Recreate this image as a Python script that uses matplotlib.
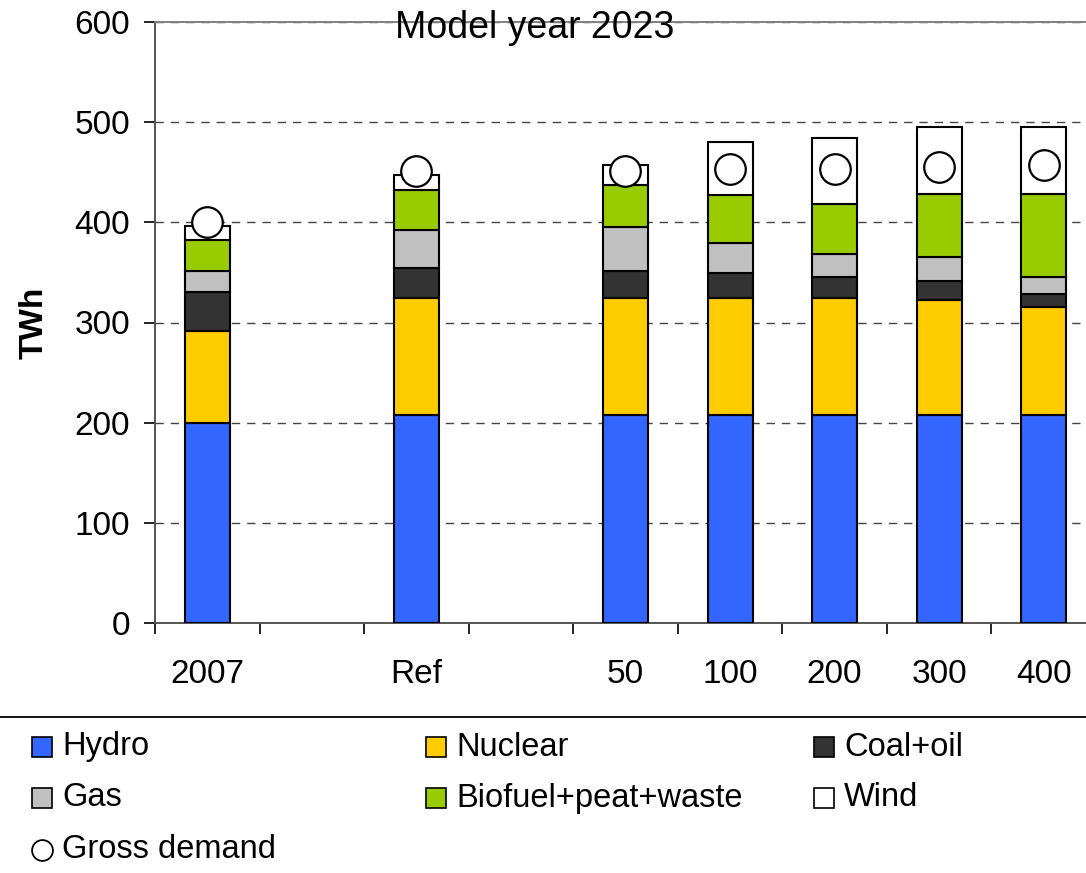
import matplotlib
matplotlib.use("Agg")
import matplotlib.pyplot as plt
import numpy as np
from matplotlib.patches import Rectangle
from matplotlib.lines import Line2D

plt.rcParams["font.family"] = ["Liberation Sans", "DejaVu Sans"]

# Scenario columns (blank slots keep the gaps between groups)
categories = ["2007", "", "Ref", "", "50", "100", "200", "300", "400"]
bar_slots = [0, 2, 4, 5, 6, 7, 8]

# Production by source, TWh (bottom to top of each stack)
hydro = [200, 208, 208, 208, 208, 208, 208]
nuclear = [92, 116, 116, 116, 116, 114, 107]
coal_oil = [38, 30, 27, 25, 21, 19, 13]
gas = [21, 38, 44, 30, 23, 24, 17]
biofuel = [31.5, 40, 42, 48, 50, 63, 83]
wind = [13.5, 15, 20, 53, 66, 67, 67]
gross_demand = [400, 451, 451, 453, 453, 455, 457]

series = [
    ("Hydro", hydro, "#3366FF"),
    ("Nuclear", nuclear, "#FFCC00"),
    ("Coal+oil", coal_oil, "#333333"),
    ("Gas", gas, "#C0C0C0"),
    ("Biofuel+peat+waste", biofuel, "#99CC00"),
    ("Wind", wind, "#FFFFFF"),
]

W, H = 1086, 873
fig = plt.figure(figsize=(W / 100, H / 100), dpi=100)
ax = fig.add_axes([155 / W, (H - 623) / H, 941 / W, 601 / H])

x = np.array(bar_slots) + 0.5
bottom = np.zeros(len(x))
for name, vals, color in series:
    ax.bar(x, vals, width=0.43, bottom=bottom, color=color,
           edgecolor="black", linewidth=1.5, zorder=3)
    bottom += np.array(vals)

ax.plot(x, gross_demand, linestyle="none", marker="o", markersize=22,
        markerfacecolor="white", markeredgecolor="black",
        markeredgewidth=1.6, zorder=4)

ax.set_xlim(0, len(categories))
ax.set_ylim(0, 600)
ax.set_yticks(np.arange(0, 601, 100))
ax.set_xticks(np.arange(len(categories)) + 0.5)
ax.set_xticklabels(categories)
ax.set_xticks(np.arange(len(categories) + 1), minor=True)

ax.tick_params(axis="y", labelsize=24, length=8, width=1.2, pad=10,
               direction="out", color="black")
ax.tick_params(axis="x", which="major", labelsize=24, length=0, pad=26)
ax.tick_params(axis="x", which="minor", length=8, width=1.2,
               direction="out", color="black")

ax.yaxis.grid(True, linestyle=(0, (6, 5)), color="#444444", linewidth=1.0,
              zorder=0)
ax.set_axisbelow(True)

for side in ["left", "bottom"]:
    ax.spines[side].set_color("#555555")
    ax.spines[side].set_linewidth(1.4)
ax.spines["top"].set_color("#808080")
ax.spines["top"].set_linewidth(1.4)
ax.spines["right"].set_visible(False)

ax.set_ylabel("TWh", fontsize=24, fontweight="bold", labelpad=18)
ax.text(0.403, 0.973, "Model year 2023", transform=ax.transAxes,
        ha="center", va="baseline", fontsize=27, zorder=5)

# Legend below a full-width rule
fig.add_artist(Line2D([0, 1], [1 - 717 / H, 1 - 717 / H],
                      transform=fig.transFigure, color="black", linewidth=1.3))

legend_rows = [
    [("Hydro", "#3366FF"), ("Nuclear", "#FFCC00"), ("Coal+oil", "#333333")],
    [("Gas", "#C0C0C0"), ("Biofuel+peat+waste", "#99CC00"), ("Wind", "#FFFFFF")],
]
col_x = [32, 426, 814]
row_y = [747, 798, 850]
box = 20
for r, row in enumerate(legend_rows):
    for c, (label, color) in enumerate(row):
        x0, yc = col_x[c], row_y[r]
        fig.add_artist(Rectangle((x0 / W, 1 - (yc + box / 2) / H),
                                 box / W, box / H, transform=fig.transFigure,
                                 facecolor=color, edgecolor="black",
                                 linewidth=1.2))
        fig.text((x0 + 30) / W, 1 - yc / H, label, fontsize=23.5,
                 ha="left", va="center")

fig.add_artist(Line2D([(col_x[0] + box / 2) / W], [1 - row_y[2] / H],
                      transform=fig.transFigure, marker="o", markersize=15,
                      markerfacecolor="white", markeredgecolor="black",
                      markeredgewidth=1.3, linestyle="none"))
fig.text((col_x[0] + 30) / W, 1 - row_y[2] / H, "Gross demand",
         fontsize=23.5, ha="left", va="center")

fig.savefig("out.png", dpi=100)
